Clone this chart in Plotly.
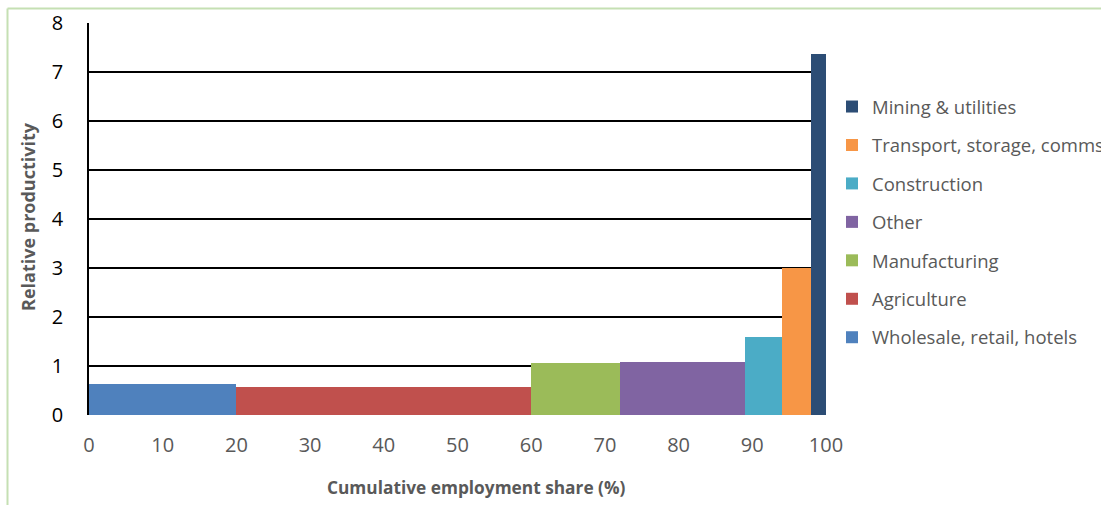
import plotly.graph_objects as go

# Sectors, ordered along the cumulative employment axis
sectors = ["Wholesale, retail, hotels", "Agriculture", "Manufacturing", "Other",
           "Construction", "Transport, storage, comms", "Mining & utilities"]
# Employment share of each sector (%), i.e. bar widths
employment_share = [20, 40, 12, 17, 5, 4, 2]
# Relative productivity of each sector, i.e. bar heights
relative_productivity = [0.63, 0.57, 1.06, 1.08, 1.59, 3.0, 7.36]
colors = ["#4F81BD", "#C0504D", "#9BBB59", "#8064A2", "#4BACC6", "#F79646", "#2C4D75"]

x_ticks = list(range(0, 101, 10))
y_ticks = list(range(0, 9))

FONT = "Open Sans, Noto Sans, sans-serif"
GREY = "#595959"

fig = go.Figure()
left = 0
n = len(sectors)
for i, (name, share, prod, col) in enumerate(
        zip(sectors, employment_share, relative_productivity, colors)):
    fig.add_trace(go.Bar(
        x=[left + share / 2], y=[prod], width=[share], name=name,
        marker=dict(color=col, line=dict(width=0)),
        legendgroup=name, legendrank=n - i,
    ))
    left += share

W, H = 1101, 505
L, R, T, B = 89, 275, 23, 90
pw, ph = W - L - R, H - T - B


def px_x(p):
    return (p - L) / pw


def px_y(p):
    return (H - B - p) / ph


# light green frame around the figure panel
frame = dict(type="line", xref="paper", yref="paper",
             line=dict(color="#C5E0B3", width=2), layer="below")
fig.add_shape(**frame, x0=px_x(7.5), x1=px_x(7.5), y0=px_y(W), y1=px_y(8.5))
fig.add_shape(**frame, x0=px_x(7.5), x1=px_x(W + 5), y0=px_y(8.5), y1=px_y(8.5))

fig.add_annotation(text="<b>Relative productivity</b>", textangle=-90,
                   xref="paper", yref="paper", x=px_x(28), y=px_y(217),
                   xanchor="center", yanchor="middle",
                   showarrow=False, font=dict(family=FONT, size=18, color=GREY))
fig.add_annotation(text="<b>Cumulative employment share (%)</b>",
                   xref="paper", yref="paper", x=px_x(476), y=px_y(487),
                   xanchor="center", yanchor="middle",
                   showarrow=False, font=dict(family=FONT, size=17.3, color=GREY))

fig.update_layout(
    width=W, height=H,
    margin=dict(l=L, r=R, t=T, b=B, autoexpand=False),
    paper_bgcolor="white", plot_bgcolor="white",
    barmode="overlay", bargap=0,
    font=dict(family=FONT),
    showlegend=True,
    legend=dict(
        traceorder="grouped", tracegroupgap=11.4,
        x=px_x(832), xanchor="left", y=px_y(88), yanchor="top",
        font=dict(family=FONT, size=18.5, color=GREY),
        bgcolor="rgba(0,0,0,0)",
    ),
    xaxis=dict(
        range=[0, 100], tickvals=x_ticks, showgrid=False, zeroline=False,
        showline=False, ticks="", ticklabelstandoff=16,
        tickfont=dict(family=FONT, size=20, color=GREY),
    ),
    yaxis=dict(
        range=[0, 8], tickvals=y_ticks, showgrid=True, gridcolor="black",
        gridwidth=1.5, zeroline=False, showline=True, linecolor="black",
        linewidth=1.5, ticks="", ticklabelstandoff=20,
        tickfont=dict(family=FONT, size=20, color="black"),
    ),
)

fig.write_html("out.html")
